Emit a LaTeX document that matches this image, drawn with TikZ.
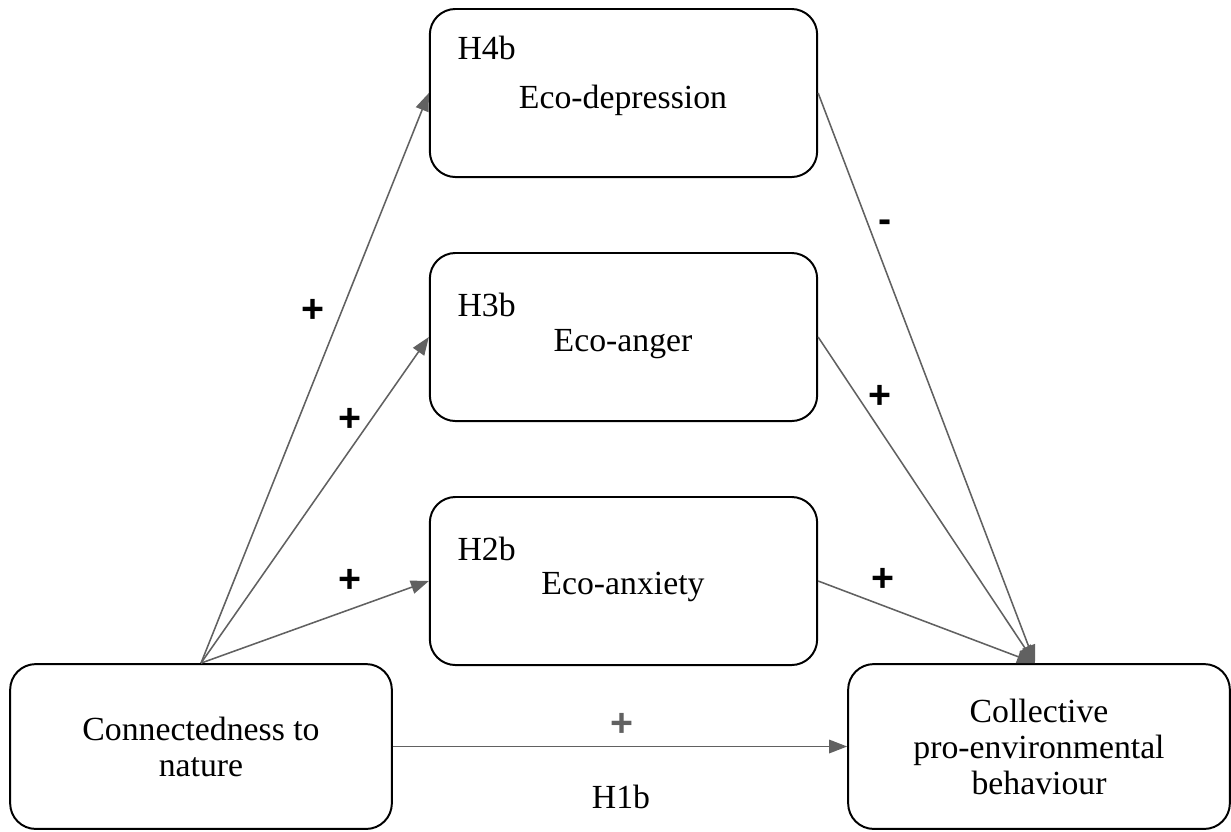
\documentclass[tikz,border=0pt]{standalone}
\usepackage{fontspec}
\setmainfont{Liberation Serif}
\newfontfamily\signfont{Liberation Sans}
\usetikzlibrary{arrows.meta, positioning}

\begin{document}
\begin{tikzpicture}[x=0.0125cm, y=-0.0125cm,
  box/.style={draw, line width=0.7pt, rounded corners=0.32cm, minimum width=4.84cm,
    minimum height=2.1cm, align=center, inner sep=0pt, font=\fontsize{12}{12.8}\selectfont},
  outer/.style={box, minimum width=4.77cm, minimum height=2.06cm},
  txt/.style={inner sep=0pt, font=\fontsize{12}{12.8}\selectfont},
  hyp/.style={txt, anchor=west},
  sgn/.style={inner sep=0pt, font=\signfont\bfseries\fontsize{14}{14}\selectfont},
  e/.style={-{Triangle[length=6.4pt, width=4.8pt]}, line width=0.55pt, draw=black!62, fill=black!70}]
  \useasboundingbox (0,0) rectangle (1231,831);
  % mediators
  \node[box] (dep) at (623.5,93)  {};
  \node[box] (ang) at (623.5,337) {};
  \node[box] (anx) at (623.5,581) {};
  \node[txt] (depname) at (623,100) {Eco-depression};
  \node[txt] (angname) at (623,344) {Eco-anger};
  \node[txt] (anxname) at (623,587) {Eco-anxiety};
  \node[hyp] (h4) at (457,48)  {H4b};
  \node[hyp] (h3) at (457,305) {H3b};
  \node[hyp] (h2) at (457,549) {H2b};
  % predictor and outcome
  \node[outer] (ctn) at (201,746.5)  {Connectedness to\\nature};
  \node[outer] (cpb) at (1039,746.5) {Collective\\pro-environmental\\behaviour};
  % paths
  \draw[e] (ctn.north) -- (dep.west);
  \draw[e] (ctn.north) -- (ang.west);
  \draw[e] (ctn.north) -- (anx.west);
  \draw[e] (dep.east) -- ([xshift=-0.05cm]cpb.north);
  \draw[e] (ang.east) -- ([xshift=-0.05cm]cpb.north);
  \draw[e] (anx.east) -- ([xshift=-0.05cm]cpb.north);
  \draw[e] (ctn.east) -- (cpb.west);
  % signs
  \node[sgn] (s4) at (313,311) {+};
  \node[sgn] (s3) at (350,420) {+};
  \node[sgn] (s2) at (350,581) {+};
  \node[sgn] (t4) at (885,226) {-};
  \node[sgn] (t3) at (880,397) {+};
  \node[sgn] (t2) at (883,580) {+};
  \node[sgn, text=black!62] (s1) at (622,725) {+};
  \node[txt] (h1) at (621,797) {H1b};
\end{tikzpicture}
\end{document}
